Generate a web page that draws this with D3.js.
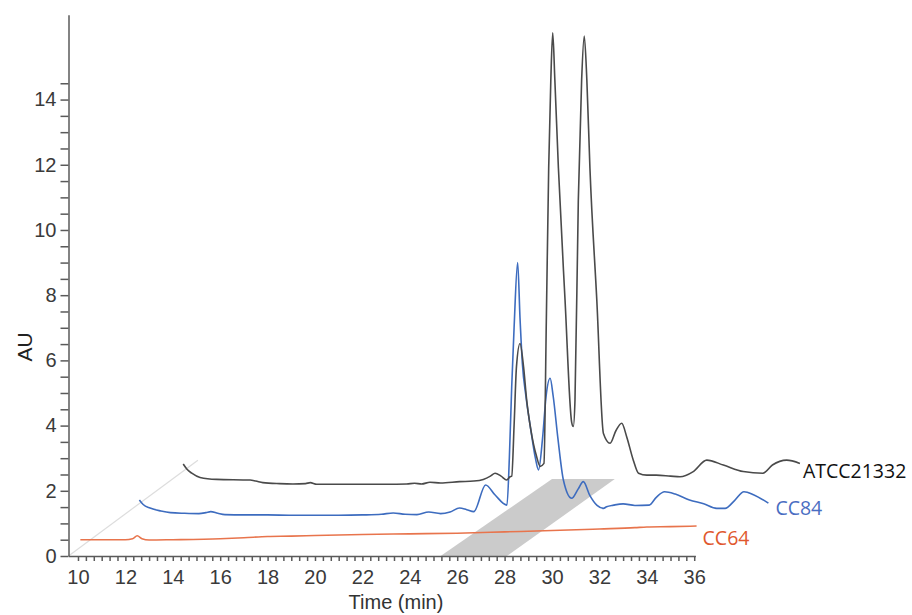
<!DOCTYPE html>
<html>
<head>
<meta charset="utf-8">
<script src="https://cdn.jsdelivr.net/npm/d3@7"></script>
<style>
  body { margin: 0; background: #fff; }
  .tick text { font-family: "Liberation Sans", Arial, sans-serif; fill: #3a3a3a; }
</style>
</head>
<body>
<div id="chart"></div>
<script>
// chart size
const width = 912;
const height = 615;

// series data (time in min, AU as drawn)
const cc64Time = [10.1, 11.0, 12.0, 12.3, 12.5, 12.7, 13.0, 14.0, 16.0, 17.0, 18.0, 19.0, 20.0, 22.0, 24.0, 26.0, 28.0, 30.0, 32.0, 33.5, 34.0, 35.0, 36.1];
const cc64Au   = [0.50, 0.50, 0.50, 0.53, 0.62, 0.53, 0.49, 0.50, 0.53, 0.56, 0.60, 0.61, 0.63, 0.66, 0.68, 0.70, 0.74, 0.78, 0.83, 0.87, 0.89, 0.90, 0.92];

const cc84Time = [12.59, 12.75, 13.04, 13.5, 13.9, 14.5, 15.1, 15.4, 15.6, 15.9, 16.2, 17.0, 18.0, 19.0, 20.0, 21.0, 22.0, 22.8, 23.3, 23.8, 24.3, 24.8, 25.3, 25.7, 26.1, 26.4, 26.7, 27.2, 27.6, 28.1, 28.2, 28.3, 28.4, 28.55, 28.65, 28.75, 28.9, 29.1, 29.3, 29.43, 29.6, 29.75, 29.92, 30.05, 30.25, 30.48, 30.83, 31.1, 31.32, 31.6, 31.9, 32.17, 32.3, 32.6, 33.0, 33.5, 34.1, 34.4, 34.75, 35.2, 35.8, 36.4, 36.95, 37.3, 37.7, 38.1, 38.5, 39.13];
const cc84Au   = [1.72, 1.58, 1.47, 1.38, 1.33, 1.31, 1.30, 1.33, 1.36, 1.31, 1.27, 1.26, 1.26, 1.25, 1.25, 1.25, 1.26, 1.28, 1.32, 1.28, 1.27, 1.35, 1.30, 1.35, 1.47, 1.42, 1.36, 2.18, 1.87, 1.56, 3.0, 5.2, 7.0, 9.0, 7.3, 5.9, 4.9, 3.9, 3.0, 2.64, 3.6, 4.9, 5.45, 4.9, 3.6, 2.33, 1.77, 2.05, 2.28, 1.85, 1.55, 1.46, 1.51, 1.56, 1.60, 1.55, 1.56, 1.80, 1.97, 1.90, 1.72, 1.60, 1.46, 1.46, 1.70, 1.97, 1.88, 1.62];

const atccTime = [14.44, 14.6, 14.8, 15.15, 15.85, 17.26, 17.5, 17.8, 18.5, 19.07, 19.6, 19.8, 20.07, 21.0, 22.0, 23.0, 23.87, 24.2, 24.5, 24.85, 25.3, 26.1, 26.7, 27.1, 27.4, 27.6, 27.85, 28.09, 28.23, 28.3, 28.4, 28.5, 28.65, 28.8, 28.93, 29.1, 29.35, 29.5, 29.66, 29.76, 29.86, 29.95, 30.03, 30.12, 30.27, 30.55, 30.83, 30.9, 30.97, 31.11, 31.25, 31.36, 31.47, 31.6, 31.89, 32.17, 32.45, 32.7, 32.94, 33.15, 33.43, 33.65, 34.0, 34.4, 35.0, 35.4, 35.96, 36.53, 37.23, 38.07, 38.9, 39.3, 39.9, 40.46];
const atccAu   = [2.82, 2.66, 2.54, 2.41, 2.35, 2.33, 2.30, 2.25, 2.22, 2.21, 2.22, 2.25, 2.20, 2.20, 2.20, 2.20, 2.21, 2.23, 2.21, 2.26, 2.24, 2.28, 2.30, 2.35, 2.45, 2.54, 2.45, 2.33, 2.43, 2.45, 4.0, 5.8, 6.52, 5.8, 4.79, 3.9, 3.05, 2.75, 2.84, 7.2, 11.9, 14.6, 16.05, 14.6, 11.9, 7.85, 4.1, 3.97, 4.79, 10.9, 14.6, 15.95, 14.6, 11.9, 7.85, 3.76, 3.46, 3.85, 4.07, 3.66, 2.94, 2.54, 2.48, 2.48, 2.45, 2.43, 2.59, 2.94, 2.79, 2.59, 2.54, 2.79, 2.94, 2.84];

const seriesNames = ["CC64", "CC84", "ATCC21332"];

// highlighted band across the depth axis (time at front edge, time at back edge, AU height of back edge)
const bandFront = [25.3, 28.1];
const bandBack = [30.0, 32.65];
const bandBackAu = 2.36;

// depth axis end point
const depthEnd = {time: 15.06, au: 2.94};

// tick values
const yTicks = d3.range(0, 14.51, 0.5);
const xTicks = d3.range(0, 79).map(i => 10 + i / 3);

const svg = d3.select("#chart")
  .append("svg")
  .attr("width", width)
  .attr("height", height);

// scales
const xScale = d3.scaleLinear().domain([9.6, 36.05]).range([68.5, 695.4]);
const yScale = d3.scaleLinear().domain([0, 16.6]).range([556, 14.8]);

// grey highlight band
svg.append("polygon")
  .attr("points", [
      [xScale(bandFront[0]), yScale(0)],
      [xScale(bandFront[1]), yScale(0)],
      [xScale(bandBack[1]), yScale(bandBackAu)],
      [xScale(bandBack[0]), yScale(bandBackAu)]
    ].map(p => p.join(",")).join(" "))
  .attr("fill", "#cbcbcb");

// depth axis
svg.append("line")
  .attr("x1", xScale(9.6)).attr("y1", yScale(0))
  .attr("x2", xScale(depthEnd.time)).attr("y2", yScale(depthEnd.au))
  .attr("stroke", "#dddddd")
  .attr("stroke-width", 1.2);

// axes
svg.append("g")
  .attr("transform", `translate(${xScale(9.6)},0)`)
  .call(d3.axisLeft(yScale)
    .tickValues(yTicks)
    .tickFormat(d => (d % 2 === 0 ? d : ""))
    .tickSize(8)
    .tickPadding(4)
    .tickSizeOuter(0))
  .attr("font-size", "20px");

svg.append("g")
  .attr("transform", `translate(0,${yScale(0)})`)
  .call(d3.axisBottom(xScale)
    .tickValues(xTicks)
    .tickFormat(d => {
      const r = Math.round(d);
      return (Math.abs(d - r) < 1e-6 && r % 2 === 0) ? r : "";
    })
    .tickSize(5)
    .tickPadding(9)
    .tickSizeOuter(0))
  .attr("font-size", "20px");

svg.selectAll(".domain, .tick line")
  .attr("stroke", "#5a5a5a")
  .attr("stroke-width", 1.5);

// axis titles
svg.append("text")
  .attr("transform", "translate(32,347) rotate(-90)")
  .attr("text-anchor", "middle")
  .attr("font-family", "Liberation Sans, Arial, sans-serif")
  .attr("font-size", "21px")
  .attr("fill", "#222")
  .text("AU");

svg.append("text")
  .attr("x", 396)
  .attr("y", 609)
  .attr("text-anchor", "middle")
  .attr("font-family", "Liberation Sans, Arial, sans-serif")
  .attr("font-size", "20px")
  .attr("fill", "#333")
  .text("Time (min)");

// traces
const line = d3.line()
  .x(d => xScale(d[0]))
  .y(d => yScale(d[1]))
  .curve(d3.curveMonotoneX);

const traces = [
  {name: seriesNames[0], pts: d3.zip(cc64Time, cc64Au), color: "#e8744c", label: "#e0582e", dx: 6, dy: 19},
  {name: seriesNames[1], pts: d3.zip(cc84Time, cc84Au), color: "#3d6cbf", label: "#4a6dc2", dx: 7, dy: 12},
  {name: seriesNames[2], pts: d3.zip(atccTime, atccAu), color: "#4a4a4a", label: "#111", dx: 3, dy: 15}
];

svg.selectAll(".trace")
  .data(traces)
  .enter()
  .append("path")
    .attr("class", "trace")
    .attr("d", d => line(d.pts))
    .attr("fill", "none")
    .attr("stroke", d => d.color)
    .attr("stroke-width", 1.6)
    .attr("stroke-linejoin", "round");

svg.selectAll(".trace-label")
  .data(traces)
  .enter()
  .append("text")
    .attr("class", "trace-label")
    .attr("x", d => xScale(d.pts[d.pts.length - 1][0]) + d.dx)
    .attr("y", d => yScale(d.pts[d.pts.length - 1][1]) + d.dy)
    .attr("font-family", "Open Sans, sans-serif")
    .attr("font-size", "19.5px")
    .attr("fill", d => d.label)
    .text(d => d.name);
</script>
</body>
</html>
